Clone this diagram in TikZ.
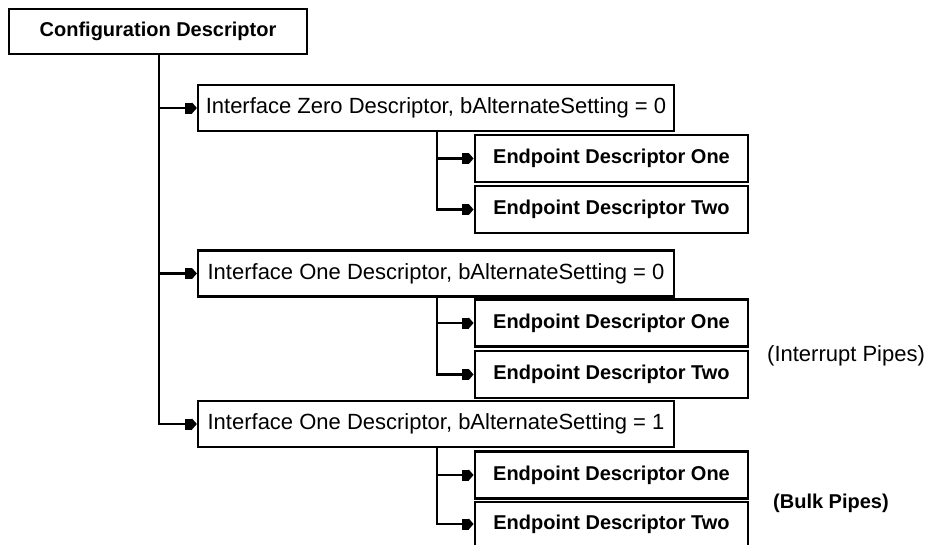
\documentclass[tikz,border=0pt]{standalone}
\usepackage{fontspec}
\setmainfont{Liberation Sans}
\usetikzlibrary{arrows.meta}

\tikzset{
  boldtext/.style={font=\fontsize{20}{24}\selectfont\bfseries},
  plaintext/.style={font=\fontsize{22}{26}\selectfont},
  cfgbox/.style={draw, line width=2.2pt, inner sep=0pt, minimum width=298pt, minimum height=45pt, boldtext},
  ifbox/.style={draw, line width=2.2pt, inner sep=0pt, minimum width=476pt, minimum height=46pt, plaintext},
  epbox/.style={draw, line width=2.8pt, inner sep=0pt, minimum width=273pt, minimum height=47pt, boldtext},
  link/.style={line width=2.4pt,
    -{Rectangle[length=7pt,width=11pt,sep=0pt] Triangle[length=5pt,width=11pt,sep=0pt]}}
}

\begin{document}
\begin{tikzpicture}[x=1pt,y=-1pt]
  \useasboundingbox (0,0) rectangle (927,544);
  \fill[white] (0,0) rectangle (927,544);

  % boxes
  \node[cfgbox] (cfg) at (158,31.5) {Configuration Descriptor};

  \node[ifbox] (if0) at (436,108) {Interface Zero Descriptor, bAlternateSetting = 0};
  \node[epbox] (ep0a) at (611.5,158.5) {Endpoint Descriptor One};
  \node[epbox] (ep0b) at (611.5,209.5) {Endpoint Descriptor Two};

  \node[ifbox] (if1) at (436,273.5) {Interface One Descriptor, bAlternateSetting = 0};
  \node[epbox] (ep1a) at (611.5,323) {Endpoint Descriptor One};
  \node[epbox] (ep1b) at (611.5,374.5) {Endpoint Descriptor Two};

  \node[ifbox] (if2) at (436,424) {Interface One Descriptor, bAlternateSetting = 1};
  \node[epbox] (ep2a) at (611.5,475) {Endpoint Descriptor One};
  \node[epbox, minimum height=44pt] (ep2b) at (611.5,524) {Endpoint Descriptor Two};

  % side labels
  \node[plaintext, anchor=west, inner sep=0pt] (lint) at (767,356) {(Interrupt Pipes)};
  \node[boldtext, anchor=west, inner sep=0pt] (lbulk) at (773,503) {(Bulk Pipes)};

  % trunk from the configuration descriptor to its interfaces
  \coordinate (t0) at (159,0);
  \draw[link] (cfg.south -| t0) |- (if2.west);
  \draw[link] (if0.west -| t0) -- (if0.west);
  \draw[link] (if1.west -| t0) -- (if1.west);

  % branches from each interface to its endpoints
  \coordinate (t1) at (437,0);
  \draw[link] (if0.south -| t1) |- (ep0b.west);
  \draw[link] (ep0a.west -| t1) -- (ep0a.west);

  \draw[link] (if1.south -| t1) |- (ep1b.west);
  \draw[link] (ep1a.west -| t1) -- (ep1a.west);

  \draw[link] (if2.south -| t1) |- (ep2b.west);
  \draw[link] (ep2a.west -| t1) -- (ep2a.west);
\end{tikzpicture}
\end{document}
